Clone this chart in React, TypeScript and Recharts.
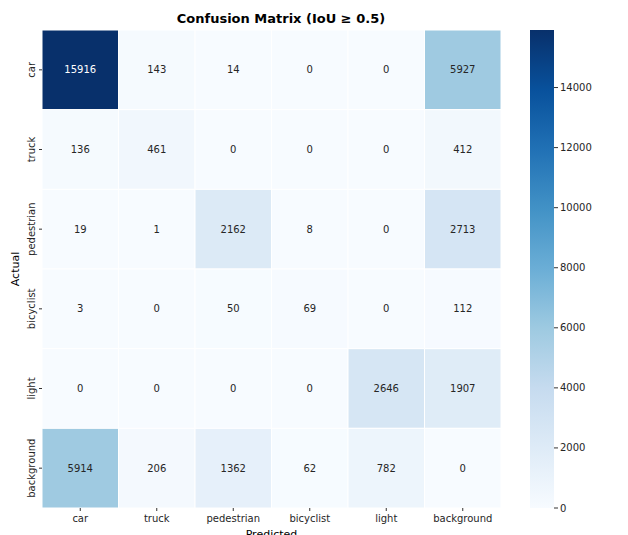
import React from 'react';
import {
  ScatterChart, Scatter, XAxis, YAxis, ReferenceArea, Label,
  BarChart, Bar,
} from 'recharts';

const classes = ['car', 'truck', 'pedestrian', 'bicyclist', 'light', 'background'];
const rowCar = [15916, 143, 14, 0, 0, 5927];
const rowTruck = [136, 461, 0, 0, 0, 412];
const rowPedestrian = [19, 1, 2162, 8, 0, 2713];
const rowBicyclist = [3, 0, 50, 69, 0, 112];
const rowLight = [0, 0, 0, 0, 2646, 1907];
const rowBackground = [5914, 206, 1362, 62, 782, 0];
const matrix = [rowCar, rowTruck, rowPedestrian, rowBicyclist, rowLight, rowBackground];
const colorbarTicks = [0, 2000, 4000, 6000, 8000, 10000, 12000, 14000];
const vmax = 15916;

const FONT = '"DejaVu Sans", sans-serif';

const blues = ['#f7fbff', '#deebf7', '#c6dbef', '#9ecae1', '#6baed6', '#4292c6', '#2171b5', '#08519c', '#08306b'];

function hexToRgb(h: string) {
  const n = parseInt(h.slice(1), 16);
  return [(n >> 16) & 255, (n >> 8) & 255, n & 255];
}
function bluesColor(t: number) {
  const c = Math.max(0, Math.min(1, t)) * (blues.length - 1);
  const i = Math.min(Math.floor(c), blues.length - 2);
  const f = c - i;
  const a = hexToRgb(blues[i]);
  const b = hexToRgb(blues[i + 1]);
  const r = a.map((v, k) => Math.round(v + (b[k] - v) * f));
  return `rgb(${r[0]},${r[1]},${r[2]})`;
}

const points = matrix.flatMap((row, r) => row.map((v, c) => ({ x: c, y: r, v })));

const YTick = (props: any) => {
  const { x, y, payload } = props;
  return (
    <text
      transform={`translate(${x - 2},${y}) rotate(-90)`}
      textAnchor="middle"
      fontSize={10}
      fontFamily={FONT}
      fill="#262626"
    >
      {classes[payload.value]}
    </text>
  );
};

const XTick = (props: any) => {
  const { x, y, payload } = props;
  return (
    <text x={x} y={y + 9} textAnchor="middle" fontSize={10} fontFamily={FONT} fill="#262626">
      {classes[payload.value]}
    </text>
  );
};

export default function App() {
  return (
    <div style={{ position: 'relative', width: 620, height: 527 }}>
      <div
        style={{
          position: 'absolute', left: 0, top: 3, width: 530, textAlign: 'center',
          fontFamily: FONT, fontWeight: 'bold', fontSize: 13, color: '#000',
        }}
      >
        <span style={{ position: 'relative', left: 8 }}>Confusion Matrix (IoU ≥ 0.5)</span>
      </div>
      <div style={{ position: 'absolute', left: 0, top: 0 }}>
        <ScatterChart width={500} height={527} margin={{ top: 22, right: 7, bottom: 0, left: 8 }}>
          <XAxis
            type="number"
            dataKey="x"
            domain={[-0.5, 5.5]}
            ticks={[0, 1, 2, 3, 4, 5]}
            axisLine={false}
            tickSize={3}
            tickLine={{ stroke: '#333' }}
            tick={<XTick />}
            height={27}
            interval={0}
          >
            <Label value="Predicted" position="insideBottom" offset={-3} fontSize={11} fontFamily={FONT} fill="#000" />
          </XAxis>
          <YAxis
            type="number"
            dataKey="y"
            domain={[-0.5, 5.5]}
            ticks={[0, 1, 2, 3, 4, 5]}
            reversed
            axisLine={false}
            tickSize={3}
            tickLine={{ stroke: '#333' }}
            tick={<YTick />}
            width={26}
            interval={0}
          >
            <Label value="Actual" angle={-90} position="insideLeft" offset={-1} fontSize={11} fontFamily={FONT} fill="#000" style={{ textAnchor: 'middle' }} />
          </YAxis>
          {points.map((p) => {
            const t = p.v / vmax;
            return (
              <ReferenceArea
                key={`${p.x}-${p.y}`}
                x1={p.x - 0.5}
                x2={p.x + 0.5}
                y1={p.y - 0.5}
                y2={p.y + 0.5}
                fill={bluesColor(t)}
                fillOpacity={1}
                stroke="#ffffff"
                strokeWidth={1}
                ifOverflow="visible"
                label={{
                  value: String(p.v),
                  position: 'center',
                  fontSize: 10,
                  fontFamily: FONT,
                  fill: t > 0.6 ? '#ffffff' : '#262626',
                }}
              />
            );
          })}
          <Scatter data={points} isAnimationActive={false} shape={() => <g />} />
        </ScatterChart>
      </div>
      <div style={{ position: 'absolute', left: 522, top: 0 }}>
        <BarChart
          width={80}
          height={527}
          data={[{ name: 'cb', value: vmax }]}
          margin={{ top: 22, right: 0, bottom: 27, left: 0 }}
          barCategoryGap={0}
        >
          <defs>
            <linearGradient id="bluesGrad" x1="0" y1="1" x2="0" y2="0">
              {blues.map((c, i) => (
                <stop key={i} offset={`${(i / (blues.length - 1)) * 100}%`} stopColor={c} />
              ))}
            </linearGradient>
          </defs>
          <XAxis dataKey="name" hide />
          <YAxis
            orientation="right"
            type="number"
            domain={[0, vmax]}
            ticks={colorbarTicks}
            width={56}
            axisLine={false}
            tickSize={4}
            tickLine={{ stroke: '#333' }}
            tick={{ fontSize: 10, fontFamily: FONT, fill: '#262626' }}
            interval={0}
          />
          <Bar dataKey="value" fill="url(#bluesGrad)" isAnimationActive={false} />
        </BarChart>
      </div>
    </div>
  );
}
